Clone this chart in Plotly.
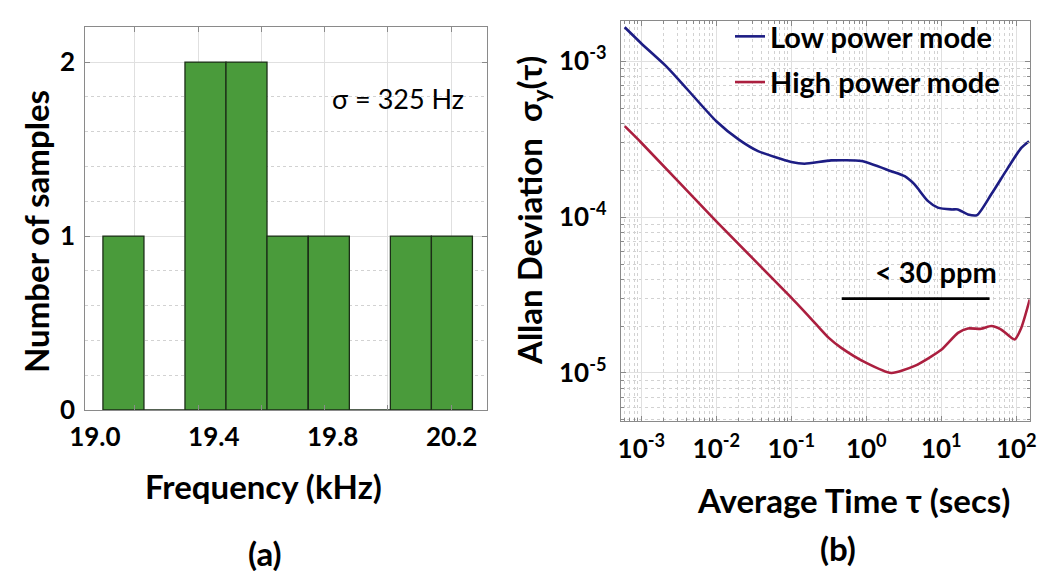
import plotly.graph_objects as go

# ---------------- (a) histogram data ----------------
bin_centers_khz = [19.096, 19.234, 19.372, 19.510, 19.648, 19.787, 19.925, 20.063, 20.201]
bin_counts = [1, 0, 2, 2, 1, 1, 0, 1, 1]
bin_width_khz = 0.138
freq_ticks = [19.0, 19.4, 19.8, 20.2]
freq_ticktext = ["19.0", "19.4", "19.8", "20.2"]
count_ticks = [0, 1, 2]

# ---------------- (b) Allan deviation data ----------------
tau_low = [6.0e-4, 1.0e-3, 2.04e-3, 3.16e-3, 1.0e-2, 2.0e-2, 3.6e-2, 0.1, 0.15, 0.34, 0.86,
           2.15, 3.25, 4.4, 6.6, 9.0, 13.6, 16.6, 22.7, 30.0, 46.4, 77.4, 116.6, 148.0]
adev_low = [1.65e-3, 1.30e-3, 9.5e-4, 7.6e-4, 4.12e-4, 3.14e-4, 2.65e-4, 2.26e-4, 2.20e-4, 2.31e-4, 2.29e-4,
            1.97e-4, 1.83e-4, 1.62e-4, 1.27e-4, 1.15e-4, 1.12e-4, 1.12e-4, 1.04e-4, 1.03e-4, 1.40e-4, 2.07e-4,
            2.78e-4, 3.07e-4]

tau_high = [6.0e-4, 1.0e-3, 1.0e-2, 0.1, 0.215, 0.316, 0.464, 1.0, 2.15, 4.42, 10.0,
            16.7, 22.7, 34.0, 46.4, 63.0, 95.0, 116.6, 151.0]
adev_high = [3.83e-4, 3.0e-4, 9.4e-5, 3.04e-5, 2.05e-5, 1.68e-5, 1.45e-5, 1.16e-5, 1.0e-5, 1.11e-5, 1.41e-5,
             1.81e-5, 1.93e-5, 1.92e-5, 2.0e-5, 1.9e-5, 1.64e-5, 1.95e-5, 2.96e-5]

limit_tau = [0.47, 44.0]
limit_adev = [3.0e-5, 3.0e-5]

tau_ticks = [1e-3, 1e-2, 1e-1, 1e0, 1e1, 1e2]
tau_ticktext = ["10<sup>-3</sup>", "10<sup>-2</sup>", "10<sup>-1</sup>", "10<sup>0</sup>", "10<sup>1</sup>", "10<sup>2</sup>"]
adev_ticks = [1e-5, 1e-4, 1e-3]
adev_ticktext = ["10<sup>-5</sup>", "10<sup>-4</sup>", "10<sup>-3</sup>"]

# minor (2..9 x decade) grid positions for the log axes
tau_minor = [m * 10.0 ** e for e in range(-4, 3) for m in range(2, 10)]
adev_minor = [m * 10.0 ** e for e in range(-6, -2) for m in range(2, 10)]

W, H = 1050, 571
FONT = "Lato"
AX = "#8a8a8a"
GRID = "#e0e0e0"
MGRID = "#d2d2d2"


def px(xp):
    return xp / W


def py(yp):
    return 1 - yp / H


fig = go.Figure()

fig.add_trace(go.Bar(
    x=bin_centers_khz, y=bin_counts, width=bin_width_khz,
    marker=dict(color="#4a9b3b", line=dict(color="#1c2e18", width=1.3)),
    xaxis="x", yaxis="y", showlegend=False, hoverinfo="x+y",
))

fig.add_trace(go.Scatter(
    x=tau_low, y=adev_low, mode="lines", name="Low power mode",
    line=dict(color="#1d1d84", width=2.6, shape="spline", smoothing=0.6),
    xaxis="x2", yaxis="y2", legendgroup="low",
))
fig.add_trace(go.Scatter(
    x=tau_high, y=adev_high, mode="lines", name="High power mode",
    line=dict(color="#ab1f3f", width=2.6, shape="spline", smoothing=0.6),
    xaxis="x2", yaxis="y2", legendgroup="high",
))
fig.add_trace(go.Scatter(
    x=limit_tau, y=limit_adev, mode="lines",
    line=dict(color="black", width=2.6),
    xaxis="x2", yaxis="y2", showlegend=False,
))

tickfont = dict(family=FONT, size=26, color="black", weight="bold")

fig.update_layout(
    width=W, height=H,
    margin=dict(l=0, r=0, t=0, b=0),
    paper_bgcolor="white", plot_bgcolor="white",
    showlegend=True,
    legend=dict(
        x=px(722), y=py(3), xanchor="left", yanchor="top",
        bgcolor="rgba(0,0,0,0)", borderwidth=0,
        font=dict(family=FONT, size=29, color="black", weight="bold"),
        tracegroupgap=5, itemwidth=30,
    ),
    xaxis=dict(
        domain=[px(77.3), px(479.3)], range=[18.9677, 20.3201], anchor="y",
        tickmode="array", tickvals=freq_ticks, ticktext=freq_ticktext,
        ticks="", showgrid=False, zeroline=False,
        showline=True, linecolor=AX, linewidth=1, mirror="allticks",
        tickfont=tickfont, ticklabelstandoff=4,
        minor=dict(tickmode="linear", tick0=19.134, dtick=0.213, ticks="inside",
                   ticklen=5, tickcolor=AX, showgrid=True, gridcolor=GRID, gridwidth=1),
        automargin=False,
    ),
    yaxis=dict(
        domain=[py(402), py(19.3)], range=[0, 2.2], anchor="x",
        tickmode="array", tickvals=count_ticks,
        ticks="inside", ticklen=5, tickcolor=AX,
        showgrid=True, gridcolor=GRID, zeroline=False,
        showline=True, linecolor=AX, linewidth=1, mirror="allticks",
        tickfont=tickfont, ticklabelstandoff=4,
        minor=dict(tickmode="linear", tick0=0, dtick=0.2, ticks="",
                   showgrid=True, gridcolor=MGRID, griddash="dot"),
        automargin=False,
    ),
    xaxis2=dict(
        type="log", domain=[px(612.7), px(1021.7)], range=[-3.275, 2.179], anchor="y2",
        tickmode="array", tickvals=tau_ticks, ticktext=tau_ticktext,
        ticks="inside", ticklen=5, tickcolor=AX,
        showgrid=True, gridcolor=GRID, zeroline=False,
        showline=True, linecolor=AX, linewidth=1, mirror="allticks",
        tickfont=tickfont, ticklabelstandoff=5,
        minor=dict(tickmode="array", tickvals=tau_minor, ticks="inside", ticklen=3, tickcolor=AX,
                   showgrid=True, gridcolor=MGRID, griddash="dot"),
        automargin=False,
    ),
    yaxis2=dict(
        type="log", domain=[py(413), py(13.3)], range=[-5.308, -2.744], anchor="x2",
        tickmode="array", tickvals=adev_ticks, ticktext=adev_ticktext,
        ticks="inside", ticklen=5, tickcolor=AX,
        showgrid=True, gridcolor=GRID, zeroline=False,
        showline=True, linecolor=AX, linewidth=1, mirror="allticks",
        tickfont=tickfont, ticklabelstandoff=8,
        minor=dict(tickmode="array", tickvals=adev_minor, ticks="inside", ticklen=3, tickcolor=AX,
                   showgrid=True, gridcolor=MGRID, griddash="dot"),
        automargin=False,
    ),
)

title_font = dict(family=FONT, size=33, color="black", weight="bold")
ann = [
    dict(text="Frequency (kHz)", x=px(255), y=py(478), font=title_font),
    dict(text="Average Time \u03c4 (secs)", x=px(845), y=py(492), font=title_font),
    dict(text="Number of samples", x=px(28), y=py(224), font=title_font, textangle=-90),
    dict(text="Allan Deviation  \u03c3<sub>y</sub>(\u03c4)", x=px(523), y=py(203), font=title_font, textangle=-90),
    dict(text="(a)", x=px(257), y=py(545), font=title_font),
    dict(text="(b)", x=px(830), y=py(540), font=title_font),
    dict(text="\u03c3 = 325 Hz", x=px(390), y=py(90),
         font=dict(family=FONT, size=27, color="black")),
    dict(text="< 30 ppm", x=px(928), y=py(263),
         font=dict(family=FONT, size=29, color="black", weight="bold")),
]
for a in ann:
    a.update(xref="paper", yref="paper", showarrow=False, xanchor="center", yanchor="middle")
fig.update_layout(annotations=ann)

fig.write_html("out.html")
